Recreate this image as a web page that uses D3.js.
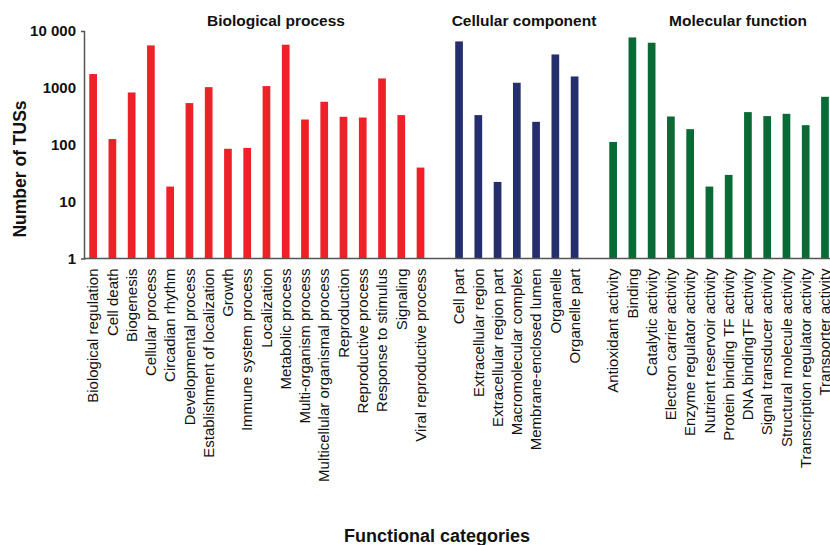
<!DOCTYPE html>
<html>
<head>
<meta charset="utf-8">
<script src="https://cdn.jsdelivr.net/npm/d3@7"></script>
<style>
  html, body { margin: 0; padding: 0; background: #fff; }
  svg { display: block; font-family: "Liberation Sans", Arial, Helvetica, sans-serif; }
</style>
</head>
<body>
<svg id="chart" width="830" height="545"></svg>
<script>
// ---- Data ----
const bioCategories = ["Biological regulation","Cell death","Biogenesis","Cellular process","Circadian rhythm","Developmental process","Establishment of localization","Growth","Immune system process","Localization","Metabolic process","Multi-organism process","Multicellular organismal process","Reproduction","Reproductive process","Response to stimulus","Signaling","Viral reproductive process"];
const bioValues = [1750,126,830,5580,18.4,540,1030,85,88,1075,5740,278,570,310,301,1465,332,39.7];

const ccCategories = ["Cell part","Extracellular region","Extracellular region part","Macromolecular complex","Membrane-enclosed lumen","Organelle","Organelle part"];
const ccValues = [6560,332,22.2,1230,253,3870,1588];

const mfCategories = ["Antioxidant activity","Binding","Catalytic activity","Electron carrier activity","Enzyme regulator activity","Nutrient reservoir activity","Protein binding TF activity","DNA bindingTF activity","Signal transducer activity","Structural molecule activity","Transcription regulator activity","Transporter activity"];
const mfValues = [112,7710,6220,314,188,18.4,29.5,375,319,350,221,697];

const groupNames = ["Biological process","Cellular component","Molecular function"];
const groupColors = ["#ee2028","#262f6d","#0a6a35"];
const yTickValues = [1,10,100,1000,10000];
const yTickLabels = ["1","10","100","1000","10 000"];

// ---- Build slot list (with one empty slot between groups) ----
const groups = [
  {name: groupNames[0], cats: bioCategories, vals: bioValues, color: groupColors[0]},
  {name: groupNames[1], cats: ccCategories, vals: ccValues, color: groupColors[1]},
  {name: groupNames[2], cats: mfCategories, vals: mfValues, color: groupColors[2]}
];
const slots = [];
const bars = [];
groups.forEach((g, gi) => {
  if (gi > 0) slots.push("__gap" + gi);
  g.cats.forEach((c, i) => { slots.push(c); bars.push({cat: c, value: g.vals[i], color: g.color, group: gi}); });
});

const svg = d3.select("#chart");
const axisColor = "#555";

const x = d3.scaleBand().domain(slots).range([83.5, 834.6]).paddingInner(0.6).paddingOuter(0.3);
const y = d3.scaleLog().domain([1, 10000]).range([258.5, 31]);

// Bars
svg.append("g").selectAll("rect").data(bars).join("rect")
  .attr("x", d => x(d.cat))
  .attr("width", x.bandwidth())
  .attr("y", d => y(d.value))
  .attr("height", d => y(1) - y(d.value))
  .attr("fill", d => d.color);

// Y axis
const yAxis = svg.append("g").attr("transform", "translate(84,0)")
  .call(d3.axisLeft(y).tickValues(yTickValues).tickFormat((d, i) => yTickLabels[i]).tickSize(0).tickSizeOuter(3).tickPadding(8));
yAxis.select(".domain").attr("stroke", axisColor).attr("stroke-width", 1.5);
yAxis.selectAll("text").attr("font-size", 15).attr("font-weight", "bold").attr("fill", "#111")
  .attr("font-family", "Liberation Sans, Arial, sans-serif");

// X axis line
const xAxis = svg.append("g").attr("transform", "translate(0,258.5)")
  .call(d3.axisBottom(x).tickValues(bars.map(b => b.cat)).tickSize(0).tickSizeOuter(0).tickPadding(0));
xAxis.select(".domain").attr("stroke", axisColor).attr("stroke-width", 1.5)
  .attr("d", "M84,0H830");
xAxis.selectAll(".tick text")
  .attr("font-size", 15)
  .attr("font-family", "Liberation Sans, Arial, sans-serif")
  .attr("fill", "#111")
  .attr("text-anchor", "end")
  .attr("transform", "translate(0,10) rotate(-90)")
  .attr("x", 0).attr("y", 0).attr("dy", "0.35em");

// Group titles
const titleX = [276, 524, 738];
svg.append("g").selectAll("text").data(groupNames).join("text")
  .attr("x", (d, i) => titleX[i])
  .attr("y", 26)
  .attr("text-anchor", "middle")
  .attr("font-size", 15.5)
  .attr("font-weight", "bold")
  .attr("fill", "#111")
  .text(d => d);

// Axis titles
svg.append("text")
  .attr("transform", "translate(26,169) rotate(-90)")
  .attr("text-anchor", "middle")
  .attr("font-size", 17.5)
  .attr("font-weight", "bold")
  .attr("fill", "#111")
  .text("Number of TUSs");

svg.append("text")
  .attr("x", 437).attr("y", 542)
  .attr("text-anchor", "middle")
  .attr("font-size", 18)
  .attr("font-weight", "bold")
  .attr("fill", "#111")
  .text("Functional categories");
</script>
</body>
</html>
